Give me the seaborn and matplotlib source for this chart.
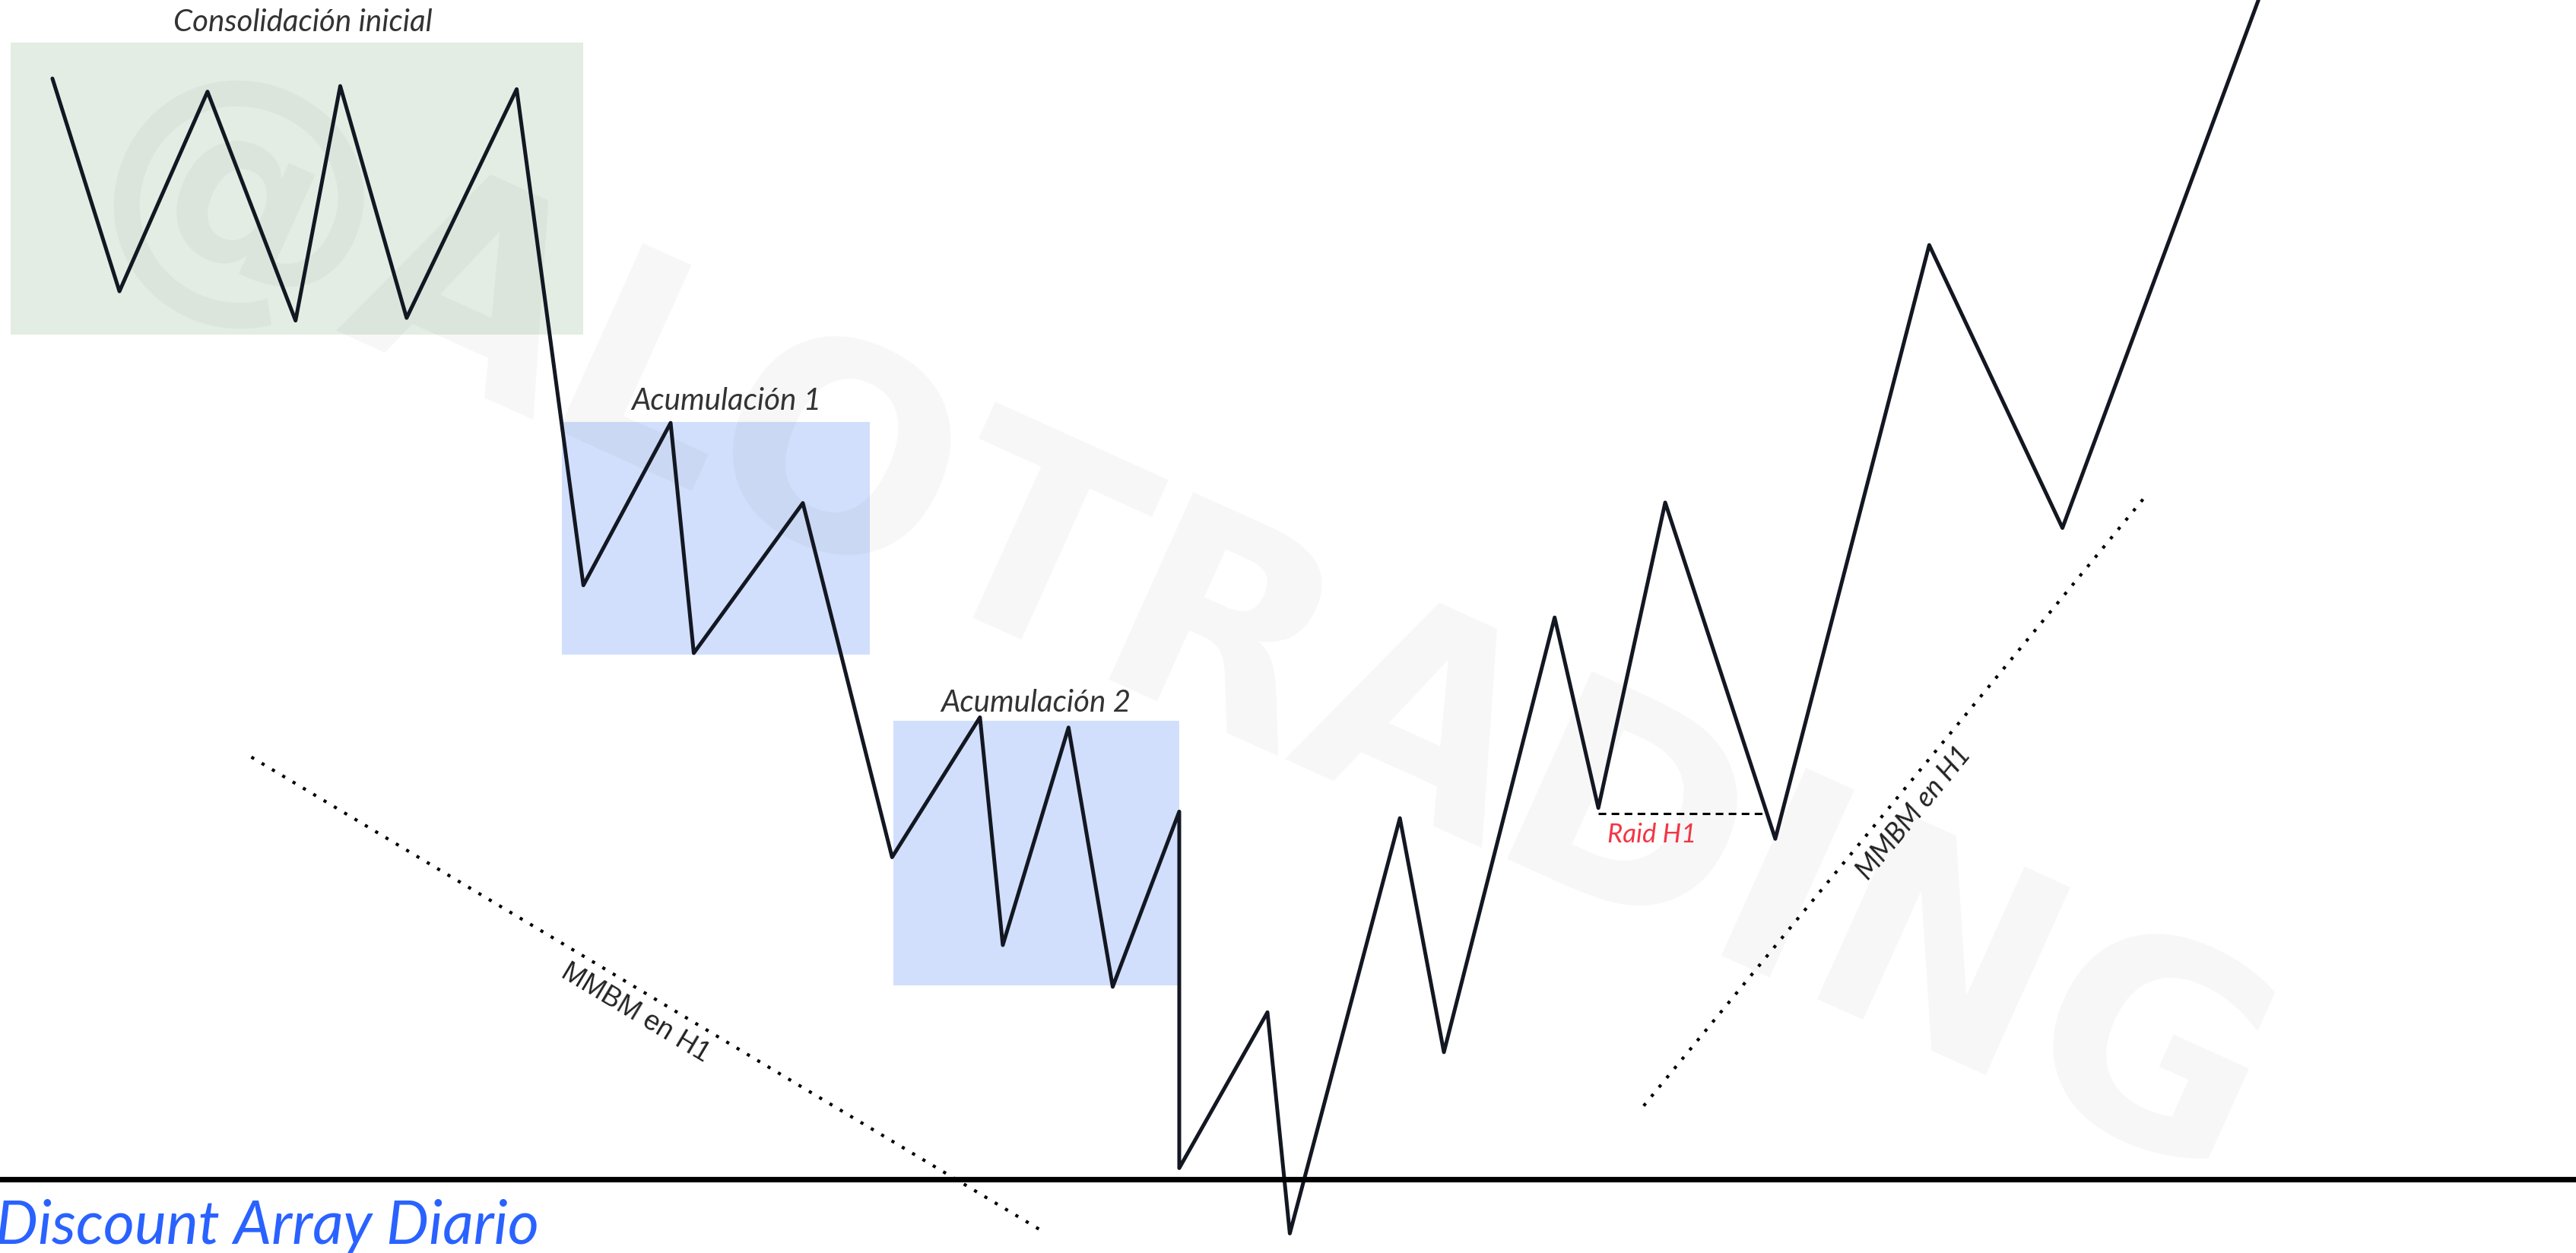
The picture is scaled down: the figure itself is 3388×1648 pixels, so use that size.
import numpy as np
import pandas as pd
import matplotlib
matplotlib.use("Agg")
import matplotlib.pyplot as plt
import seaborn as sns
from matplotlib.patches import Rectangle

# coordenadas (x: tiempo, y: precio, eje invertido)
price_x = [31.9, 72.7, 126.3, 179.9, 207.1, 247.5, 314.5, 355.1, 408.2, 422.3,
           488.7, 543.0, 596.5, 610.4, 650.4, 677.3, 717.8, 717.8, 771.5, 785.1,
           852.1, 878.9, 946.3, 972.9, 1013.6, 1080.6, 1174.3, 1255.4, 1374.7]
price_y = [47.8, 177.4, 55.8, 195.2, 52.4, 193.6, 54.3, 356.4, 257.5, 397.7,
           306.3, 522.0, 436.8, 575.5, 443.0, 600.9, 494.2, 711.3, 616.4, 751.1,
           498.2, 640.7, 376.0, 492.0, 306.0, 510.8, 149.2, 321.5, 0.0]

# zonas: x0, x1, y0, y1
zone_names = ["Consolidación inicial", "Acumulación 1", "Acumulación 2"]
zone_x0 = [6.5, 341.8, 543.9]
zone_x1 = [355.0, 529.3, 717.8]
zone_y0 = [25.7, 256.8, 439.0]
zone_y1 = [203.7, 398.5, 599.8]
zone_colors = ["#e3ede3", "#d1dffc", "#d1dffc"]
zone_label_x = [184.5, 442.3, 630.4]
zone_label_y = [19.2, 249.4, 433.3]

mmbm_left_x = [153.0, 635.0]
mmbm_left_y = [461.0, 750.0]
mmbm_right_x = [1000.5, 1306.7]
mmbm_right_y = [673.4, 301.3]

raid_x = [973.0, 1075.2]
raid_y = [495.4, 495.4]
discount_level = 717.9

W, H = 1568, 763

sns.set_style("white")
plt.rcParams['font.family'] = ['Lato', 'DejaVu Sans']

fig = plt.figure(figsize=(16.94, 8.24), dpi=200)
ax = fig.add_axes([0, 0, 1, 1])
ax.set_xlim(0, W)
ax.set_ylim(H, 0)
ax.axis("off")

for i in range(len(zone_names)):
    ax.add_patch(Rectangle((zone_x0[i], zone_y0[i]), zone_x1[i] - zone_x0[i],
                           zone_y1[i] - zone_y0[i], color=zone_colors[i], lw=0, zorder=1))
    ax.text(zone_label_x[i], zone_label_y[i], zone_names[i], ha="center", va="baseline",
            fontsize=14.5, style="italic", color="#333333", zorder=5)

# marca de agua
ax.text(718, 386, "@ALOTRADING", ha="center", va="center", rotation=-24.3,
        rotation_mode="anchor", fontsize=134, fontweight="bold", family="DejaVu Sans",
        color="black", alpha=0.035, zorder=2)

df = pd.DataFrame({"x": price_x, "y": price_y})
sns.lineplot(data=df, x="x", y="y", sort=False, estimator=None, color="#131722",
             lw=1.8, ax=ax, zorder=4)

sns.lineplot(x=mmbm_left_x, y=mmbm_left_y, sort=False, estimator=None, color="black",
             lw=1.5, ax=ax, linestyle=(0, (1, 2.8)), zorder=3)
sns.lineplot(x=mmbm_right_x, y=mmbm_right_y, sort=False, estimator=None, color="black",
             lw=1.5, ax=ax, linestyle=(0, (1, 2.8)), zorder=3)
sns.lineplot(x=raid_x, y=raid_y, sort=False, estimator=None, color="black",
             lw=1.1, ax=ax, linestyle=(0, (3.3, 2.3)), zorder=3)

ax.axhline(discount_level, color="black", lw=2.6, zorder=4)

ax.text(386.7, 617.1, "MMBM en H1", ha="center", va="center", rotation=-30.9,
        rotation_mode="anchor", fontsize=13, color="#222222", family="Liberation Sans")
ax.text(1165, 495.2, "MMBM en H1", ha="center", va="center", rotation=50.5,
        rotation_mode="anchor", fontsize=13, style="italic", color="#222222")
ax.text(1005.7, 512.9, "Raid H1", ha="center", va="baseline", fontsize=12.5,
        style="italic", color="#f23645")
ax.text(-3, 757.5, "Discount Array Diario", ha="left", va="baseline", fontsize=28.5,
        style="italic", color="#2962ff")

if ax.get_legend():
    ax.get_legend().remove()
fig.savefig("out.png", dpi=200, facecolor="white")
